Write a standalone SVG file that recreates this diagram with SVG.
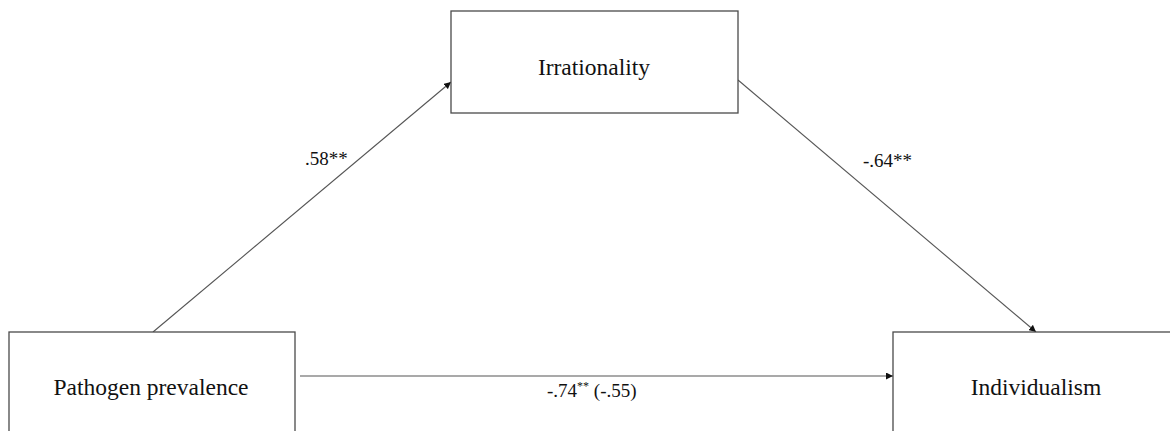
<svg xmlns="http://www.w3.org/2000/svg" width="1170" height="431" viewBox="0 0 1170 431">
<style>
.box{fill:#fff;stroke:#4a4a4a;stroke-width:1.3}
.lbl{font-family:"Liberation Serif","Times New Roman",serif;font-size:23.5px;fill:#111;text-anchor:middle}
.coef{font-family:"Liberation Serif","Times New Roman",serif;font-size:19px;fill:#111}
.edge{stroke:#555;stroke-width:1.1;fill:none;marker-end:url(#ah)}
</style>
<defs>
<marker id="ah" viewBox="0 0 10 10" refX="10" refY="5" markerWidth="7" markerHeight="7" markerUnits="userSpaceOnUse" orient="auto">
<path d="M0,0 L10,5 L0,10 z" fill="#111"/>
</marker>
</defs>
<rect width="1170" height="431" fill="#fff"/>
<g id="connectors">
<line class="edge" x1="153" y1="332" x2="451" y2="82"/>
<line class="edge" x1="738" y1="80" x2="1036" y2="332"/>
<line class="edge" x1="300" y1="376" x2="893" y2="376"/>
</g>
<g id="node-irrationality">
<rect class="box" x="451" y="11" width="287" height="102"/>
<text class="lbl" x="594" y="75">Irrationality</text>
</g>
<g id="node-pathogen">
<rect class="box" x="9" y="332" width="286" height="110"/>
<text class="lbl" x="151" y="395">Pathogen prevalence</text>
</g>
<g id="node-individualism">
<rect class="box" x="893" y="332" width="290" height="110"/>
<text class="lbl" x="1036" y="395">Individualism</text>
</g>
<g id="labels">
<text class="coef" x="305" y="165">.58**</text>
<text class="coef" x="863" y="167">-.64**</text>
<text class="coef" x="547" y="397">-.74<tspan font-size="12" dy="-7">**</tspan><tspan dy="7"> (-.55)</tspan></text>
</g>
</svg>
